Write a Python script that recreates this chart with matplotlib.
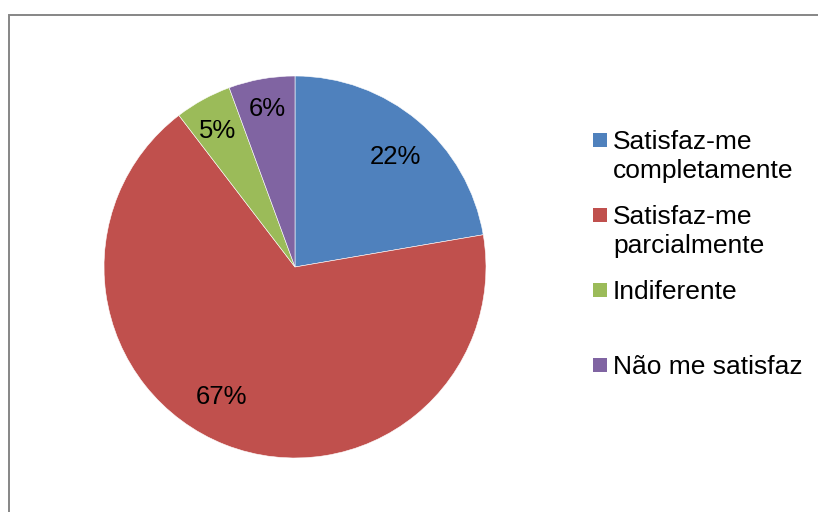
import matplotlib
matplotlib.use("Agg")
import numpy as np
import matplotlib.pyplot as plt
from matplotlib.patches import Rectangle

categories = ["Satisfaz-me\ncompletamente", "Satisfaz-me\nparcialmente", "Indiferente", "Não me satisfaz"]
values = [22.3, 67.3, 4.8, 5.6]
colors = ["#4F81BD", "#C0504D", "#9BBB59", "#8064A2"]

plt.rcParams['font.family'] = ['Liberation Sans', 'DejaVu Sans']

W, H = 818, 512
fig = plt.figure(figsize=(W / 100, H / 100), dpi=100)

# outer chart border (cropped on right/bottom)
fig.add_artist(Rectangle((9 / W, -0.1), 1.2, (H - 15) / H + 0.1, transform=fig.transFigure,
                         fill=False, edgecolor="#868686", linewidth=1.4))

cx, cy, r = 295, 267, 191
ax = fig.add_axes([(cx - r) / W, (H - cy - r) / H, 2 * r / W, 2 * r / H])
wedges, texts, autotexts = ax.pie(values, colors=colors, startangle=90, counterclock=False,
                                  autopct='%.0f%%', pctdistance=0.8,
                                  wedgeprops=dict(edgecolor="white", linewidth=0.4),
                                  textprops=dict(fontsize=18.5, color="black"))

# Excel-like label placement tweaks (radius fraction, angular shift in degrees)
label_radius = [0.78, 0.78, 0.82, 0.84]
label_shift = [-2, -8, 1, 0]
for w, t, rr, sh in zip(wedges, autotexts, label_radius, label_shift):
    ang = np.deg2rad((w.theta1 + w.theta2) / 2 + sh)
    t.set_position((rr * np.cos(ang), rr * np.sin(ang)))

ax.set_xlim(-1, 1)
ax.set_ylim(-1, 1)
ax.set_aspect('equal')
ax.axis('off')

# legend
for i, (lab, col) in enumerate(zip(categories, colors)):
    top = 133 + 75 * i
    fig.add_artist(Rectangle((593 / W, 1 - (top + 14) / H), 14 / W, 14 / H,
                             transform=fig.transFigure, facecolor=col, edgecolor="none"))
    for j, line in enumerate(lab.split("\n")):
        base = 149 + 75 * i + 29 * j
        fig.text(613 / W, 1 - base / H, line, fontsize=19, va='baseline', ha='left', color="black")

fig.savefig("out.png", dpi=100)
